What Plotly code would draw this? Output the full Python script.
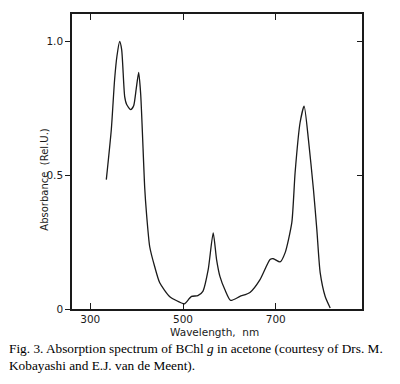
import plotly.graph_objects as go

# Wavelength (nm) and relative absorbance
wavelength = [334.6, 345.4, 352.5, 357.5, 363.4, 367.7, 374.2, 378.5, 387.1, 393.6,
              399.0, 404.4, 408.8, 417.4, 421.1, 428.2, 439.0, 449.8, 471.5, 500.2,
              503.9, 518.4, 532.0, 542.8, 554.3, 565.1, 572.4, 579.6, 590.4, 602.7,
              622.8, 644.4, 666.1, 687.7, 694.8, 709.3, 720.1, 734.6, 741.7, 752.5,
              761.2, 770.5, 781.3, 788.6, 795.8, 806.6, 817.4]
absorbance = [0.484, 0.672, 0.859, 0.946, 1.001, 0.971, 0.795, 0.765, 0.746, 0.761,
              0.823, 0.885, 0.802, 0.454, 0.361, 0.233, 0.158, 0.098, 0.046, 0.020,
              0.020, 0.047, 0.050, 0.066, 0.147, 0.285, 0.185, 0.122, 0.072, 0.032,
              0.047, 0.062, 0.110, 0.185, 0.188, 0.176, 0.210, 0.323, 0.510, 0.698,
              0.759, 0.634, 0.447, 0.297, 0.136, 0.047, 0.004]

x_ticks = [300, 500, 700]
y_ticks = [0, 0.5, 1.0]
y_tick_labels = ["0", "0.5", "1.0"]

x_title = "Wavelength,  nm"
y_title = "Absorbance  (Rel.U.)"
caption_lines = [
    "Fig. 3. Absorption spectrum of BChl <i>g</i> in acetone (courtesy of Drs. M.",
    "Kobayashi and E.J. van de Meent).",
]

ink = "#1a1a1a"
sans = "DejaVu Sans"
serif = "Liberation Serif"

fig = go.Figure()
fig.add_trace(go.Scatter(
    x=wavelength, y=absorbance, mode="lines",
    line=dict(color=ink, width=1.3, shape="spline", smoothing=0.6),
    hoverinfo="skip", showlegend=False,
))
# invisible copy that anchors the right-hand (inward ticks) axis
fig.add_trace(go.Scatter(
    x=wavelength, y=absorbance, mode="lines", yaxis="y2", opacity=0,
    hoverinfo="skip", showlegend=False,
))

fig.update_layout(
    width=400, height=384,
    margin=dict(l=72, r=38, t=14, b=75),
    paper_bgcolor="white", plot_bgcolor="white",
    font=dict(family=sans, color=ink, size=10.5),
    xaxis=dict(
        range=[260.6, 886], tickvals=x_ticks, ticks="inside", ticklen=6,
        tickwidth=1, tickcolor=ink, showgrid=False, zeroline=False,
        showline=True, linecolor=ink, linewidth=1.6, mirror="ticks",
        tickfont=dict(family=sans, size=10.5, color=ink),
    ),
    yaxis=dict(
        range=[0, 1.104], tickvals=y_ticks, ticktext=y_tick_labels,
        ticks="outside", ticklen=5, tickwidth=1, tickcolor=ink,
        showgrid=False, zeroline=False, showline=True, linecolor=ink,
        linewidth=1.6, mirror=True,
        tickfont=dict(family=sans, size=10.5, color=ink),
    ),
    yaxis2=dict(
        range=[0, 1.104], overlaying="y", side="right", tickvals=y_ticks,
        ticks="inside", ticklen=5, tickwidth=1, tickcolor=ink,
        showticklabels=False, showgrid=False, zeroline=False, showline=False,
    ),
    annotations=[
        dict(text=x_title, xref="paper", yref="paper", x=0.49, y=-0.077,
             showarrow=False, xanchor="center", yanchor="middle",
             font=dict(family=sans, size=10.5, color=ink)),
        dict(text=y_title, xref="paper", yref="paper", x=-0.095, y=0.44,
             textangle=-90, showarrow=False, xanchor="center", yanchor="middle",
             font=dict(family=sans, size=10, color=ink)),
        dict(text="<br>".join(caption_lines), xref="paper", yref="paper",
             x=-0.223, y=-0.163, showarrow=False, xanchor="left",
             yanchor="middle", align="left",
             font=dict(family=serif, size=13.3, color="black")),
    ],
)

fig.write_html("out.html", config={"displayModeBar": False},
               post_script="document.body.style.margin='0';")
